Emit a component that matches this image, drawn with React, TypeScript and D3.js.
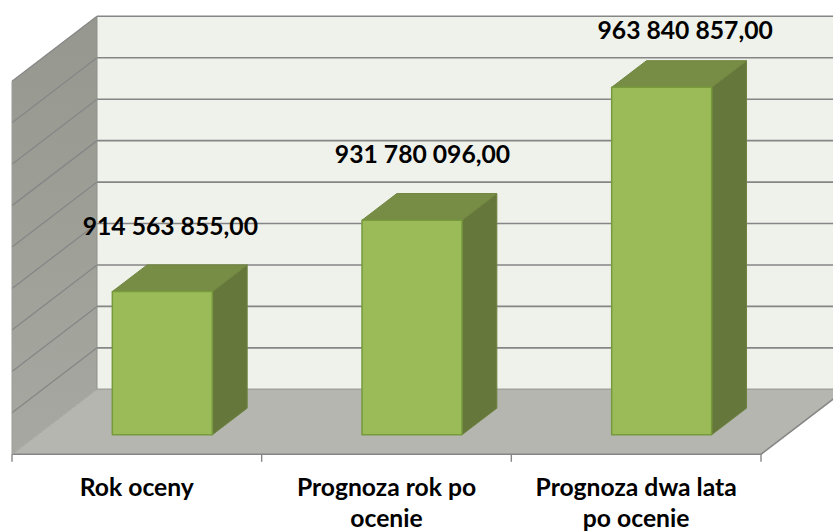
import React from "react";
import * as d3 from "d3";

const categories = ["Rok oceny", "Prognoza rok po ocenie", "Prognoza dwa lata po ocenie"];
const categoryLines = [["Rok oceny"], ["Prognoza rok po", "ocenie"], ["Prognoza dwa lata", "po ocenie"]];
const values = [914563855, 931780096, 963840857];
const valueLabels = ["914 563 855,00", "931 780 096,00", "963 840 857,00"];
const gridTicks = d3.range(880000000, 970000001, 10000000);

const W = 833, H = 531;
const frontLeft = 12, frontRight = 761, frontBottom = 454.3;
const depthX = 85, depthY = -65;
const plotH = 373;
const barDepth = [0.3, 0.71];   // fraction of floor depth
const labelNudge = [[8, -66], [10.5, -67], [23.5, -58]];

const x = d3.scaleBand<string>().domain(categories).range([frontLeft, frontRight]).paddingInner(0).paddingOuter(0);
const y = d3.scaleLinear().domain([880000000, 970000000]).range([0, plotH]);

const P = (pts: [number, number][]) => (d3.line()(pts) ?? "") + "Z";
const GRID = "#868686";

export default function App() {
  const floor: [number, number][] = [
    [frontLeft, frontBottom], [frontRight, frontBottom],
    [frontRight + depthX, frontBottom + depthY], [frontLeft + depthX, frontBottom + depthY],
  ];
  const top = frontBottom - plotH;
  return (
    <svg width={W} height={H} style={{ position: "fixed", left: 0, top: 0, background: "#fff" }}
      fontFamily="Lato, Carlito, sans-serif" fontWeight={700}>
      <defs>
        <linearGradient id="wall" x1="0" y1="0" x2="0" y2="1">
          <stop offset="0" stopColor="#96988f" />
          <stop offset="1" stopColor="#a6a8a1" />
        </linearGradient>
      </defs>
      {/* back wall */}
      <rect x={frontLeft + depthX} y={top + depthY} width={W} height={plotH} fill="#eff1eb" />
      {/* left wall */}
      <path d={P([[frontLeft, frontBottom], [frontLeft, top], [frontLeft + depthX, top + depthY], [frontLeft + depthX, frontBottom + depthY]])} fill="url(#wall)" />
      {/* floor */}
      <path d={P(floor)} fill="#b4b6af" />
      <line x1={frontLeft + depthX} x2={W} y1={frontBottom + depthY} y2={frontBottom + depthY} stroke="#a0a29b" strokeWidth={1.5} />
      {/* gridlines */}
      {gridTicks.map((t) => {
        const yy = frontBottom - y(t);
        return (
          <g key={t} stroke={GRID} strokeWidth={1.6} fill="none">
            {t > gridTicks[0] && <line x1={frontLeft + depthX} x2={W} y1={yy + depthY} y2={yy + depthY} />}
            {t > gridTicks[0] && <line x1={frontLeft} y1={yy} x2={frontLeft + depthX} y2={yy + depthY} strokeWidth={1.3} />}
          </g>
        );
      })}
      <line x1={frontLeft} y1={top} x2={frontLeft} y2={frontBottom} stroke="#9a9c95" strokeWidth={1} />
      <line x1={frontLeft + depthX} y1={top + depthY} x2={frontLeft + depthX} y2={frontBottom + depthY} stroke="#8f9189" strokeWidth={1} />
      {/* floor edges, ticks */}
      <line x1={frontLeft} y1={frontBottom} x2={frontRight} y2={frontBottom} stroke={GRID} strokeWidth={1.6} />
      <line x1={frontLeft} y1={frontBottom} x2={frontLeft + depthX} y2={frontBottom + depthY} stroke="#a3a59e" strokeWidth={1} />
      <line x1={frontRight} y1={frontBottom} x2={frontRight + depthX} y2={frontBottom + depthY} stroke={GRID} strokeWidth={1.6} />
      {d3.range(0, categories.length + 1).map((i) => {
        const xx = frontLeft + i * x.bandwidth();
        return <line key={i} x1={xx} x2={xx} y1={frontBottom} y2={frontBottom + 7.5} stroke={GRID} strokeWidth={1.4} />;
      })}
      {/* bars */}
      {categories.map((c, i) => {
        const b = x(c)!;
        const w = 100;
        const f0 = barDepth[0], f1 = barDepth[1];
        const x0 = b + x.bandwidth() / 2 - w / 2 + depthX * f0;
        const x1 = x0 + w;
        const base = frontBottom + depthY * f0;
        const h = y(values[i]);
        const yt = base - h;
        const dx = depthX * (f1 - f0), dy = depthY * (f1 - f0);
        return (
          <g key={c} strokeLinejoin="round">
            <path d={P([[x1, base], [x1, yt], [x1 + dx, yt + dy], [x1 + dx, base + dy]])} fill="#66773c" stroke="#6e8440" strokeWidth={1} />
            <path d={P([[x0, yt], [x1, yt], [x1 + dx, yt + dy], [x0 + dx, yt + dy]])} fill="#778c45" stroke="#71863f" strokeWidth={1} />
            <path d={P([[x0, yt], [x1, yt], [x1, base], [x0, base]])} fill="#9bbb59" stroke="#769a3c" strokeWidth={1.5} />
          </g>
        );
      })}
      {/* value labels */}
      {categories.map((c, i) => {
        const cx = x(c)! + x.bandwidth() / 2 + depthX * barDepth[0];
        const yt = frontBottom + depthY * barDepth[0] - y(values[i]);
        return (
          <text key={c} x={cx + labelNudge[i][0]} y={yt + labelNudge[i][1]} textAnchor="middle" dominantBaseline="central" fontSize={24.7} fill="#000">
            {valueLabels[i]}
          </text>
        );
      })}
      {/* category labels */}
      {categories.map((c, i) => (
        <text key={c} textAnchor="middle" fontSize={24.7} fill="#000">
          {categoryLines[i].map((l, j) => (
            <tspan key={j} x={x(c)! + x.bandwidth() / 2} y={496 + j * 30.5}>{l}</tspan>
          ))}
        </text>
      ))}
    </svg>
  );
}
